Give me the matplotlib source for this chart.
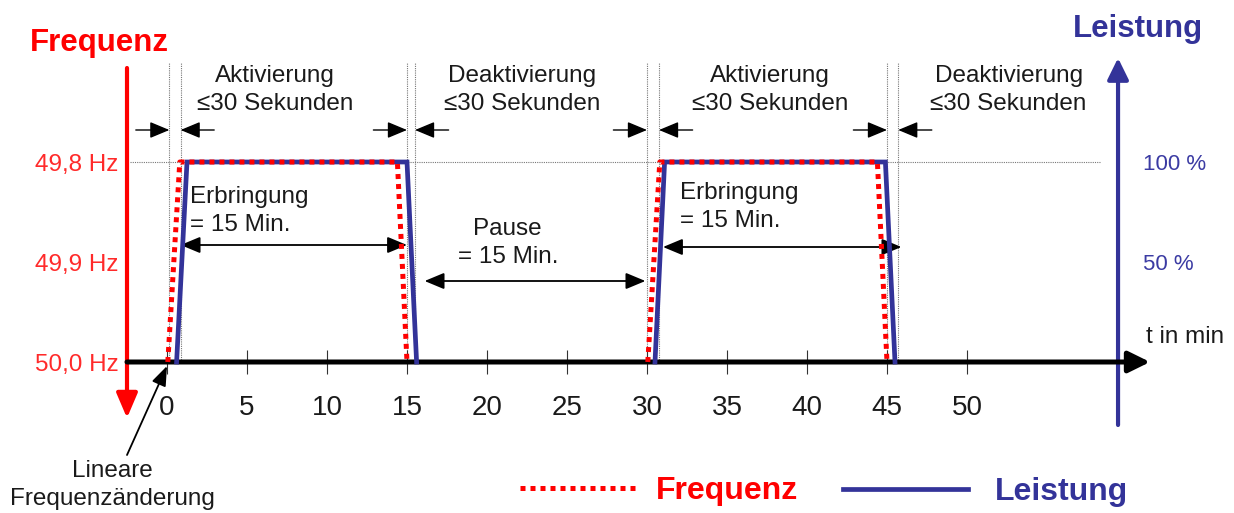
import matplotlib
matplotlib.use('Agg')
import matplotlib.pyplot as plt

plt.rcParams['font.family'] = ['Liberation Sans', 'DejaVu Sans']

# ---------------- data ----------------
freq_pulse_times = [[0.05, 0.8, 14.4, 15.0], [30.05, 30.8, 44.4, 45.0]]
freq_pulse_hz = [50.0, 49.8, 49.8, 50.0]
power_pulse_times = [[0.6, 1.25, 15.0, 15.6], [30.5, 31.1, 44.9, 45.5]]
power_pulse_pct = [0, 100, 100, 0]

x_ticks = [0, 5, 10, 15, 20, 25, 30, 35, 40, 45, 50]
freq_ticks = [50.0, 49.9, 49.8]
freq_tick_labels = ['50,0 Hz', '49,9 Hz', '49,8 Hz']
power_ticks = [50, 100]
power_tick_labels = ['50 %', '100 %']

window_edges = [(0.15, 0.85), (15.0, 15.5), (30.0, 30.75), (45.0, 45.7)]
window_labels = ['Aktivierung\n≤30 Sekunden', 'Deaktivierung\n≤30 Sekunden',
                 'Aktivierung\n≤30 Sekunden', 'Deaktivierung\n≤30 Sekunden']
window_label_x = [6.75, 22.2, 37.7, 52.6]

delivery_spans = [(0.85, 15.0), (31.0, 45.9)]
pause_span = (16.1, 29.9)

# ---------------- style ----------------
RED = '#ff0000'
RED_TXT = '#ff2a2a'
BLUE = '#333399'
BLUE_TXT = '#3b3ba3'
DARK = '#1a1a1a'
FS = 17.5
LS = 1.38

fig = plt.figure(figsize=(12.34, 5.13), dpi=100)
ax = fig.add_axes([0, 0, 1, 1])
ax.set_xlim(-10.4375, 66.6875)
ax.set_ylim(-75.5, 181)
ax_f = ax.twinx()
ax_f.set_ylim(50.0 + 75.5 * 0.002, 50.0 - 181 * 0.002)

for a in (ax, ax_f):
    for s in a.spines.values():
        s.set_visible(False)
    a.patch.set_visible(False)

X_RED_AXIS = -2.5
X_BLUE_AXIS = 59.44

# x ticks on baseline
ax.spines['bottom'].set_position(('data', 0))
ax.set_xticks(x_ticks)
ax.set_xticklabels([str(v) for v in x_ticks])
ax.tick_params(axis='x', direction='inout', length=17, width=0.8, color='#333333',
               pad=15, labelsize=20, labelcolor=DARK)

# power ticks (right, blue axis)
ax.yaxis.tick_right()
ax.spines['right'].set_position(('data', X_BLUE_AXIS))
ax.set_yticks(power_ticks)
ax.set_yticklabels(power_tick_labels)
ax.tick_params(axis='y', length=0, pad=18, labelsize=16, labelcolor=BLUE_TXT)

# frequency ticks (left, red axis)
ax_f.yaxis.tick_left()
ax_f.spines['left'].set_position(('data', X_RED_AXIS))
ax_f.set_yticks(freq_ticks)
ax_f.set_yticklabels(freq_tick_labels)
ax_f.tick_params(axis='y', length=0, pad=6, labelsize=17.5, labelcolor=RED_TXT)

# guide lines
ax.plot([-2.3, 58.4], [100, 100], color='#777777', lw=0.8, ls=(0, (1, 1)), zorder=1)
for a_, b_ in window_edges:
    for t in (a_, b_):
        ax.plot([t, t], [0, 150], color='#777777', lw=0.8, ls=(0, (1, 1)), zorder=1)

# axes arrows
def arrow(x0, y0, x1, y1, color, lw, ms, hl, hw, style='-|>'):
    ax.annotate('', xy=(x1, y1), xytext=(x0, y0),
                arrowprops=dict(arrowstyle=f'{style},head_length={hl},head_width={hw}',
                                color=color, lw=lw, mutation_scale=ms,
                                shrinkA=0, shrinkB=0), zorder=5)

arrow(X_RED_AXIS, 147, X_RED_AXIS, -28, RED, 3.0, 20, 0.75, 0.32)
arrow(X_BLUE_AXIS, -31.5, X_BLUE_AXIS, 152, BLUE, 3.0, 20, 0.65, 0.32)
arrow(X_RED_AXIS, 0, 61.44, 0, 'black', 3.6, 20, 0.65, 0.32)

# lines
blue_line = None
red_line = None
for t in power_pulse_times:
    blue_line, = ax.plot(t, power_pulse_pct, color=BLUE, lw=3.4, zorder=6,
                         solid_joinstyle='miter')
for t in freq_pulse_times:
    red_line, = ax_f.plot(t, freq_pulse_hz, color=RED, lw=3.6, ls=(0, (1, 1)),
                          dash_capstyle='butt', zorder=7)

# window arrows  ->|<-
for a_, b_ in window_edges:
    arrow(a_ - 2.1, 116, a_, 116, 'black', 1.0, 10, 1.2, 0.5)
    arrow(b_ + 2.1, 116, b_, 116, 'black', 1.0, 10, 1.2, 0.5)

for lbl, x in zip(window_labels, window_label_x):
    ax.text(x, 136, lbl, ha='center', va='center', fontsize=FS, color=DARK,
            linespacing=LS)

# delivery / pause
ax.text(1.44, 75.5, 'Erbringung\n= 15 Min.', ha='left', va='center', fontsize=FS,
        color=DARK, linespacing=LS)
ax.text(32.06, 77.5, 'Erbringung\n= 15 Min.', ha='left', va='center', fontsize=FS,
        color=DARK, linespacing=LS)
arrow(delivery_spans[0][0], 58.5, delivery_spans[0][1], 58.5, 'black', 1.3, 10, 1.2, 0.5, '<|-|>')
arrow(delivery_spans[1][0], 57.5, delivery_spans[1][1], 57.5, 'black', 1.3, 10, 1.2, 0.5, '<|-|>')
ax.text(21.3, 59.5, 'Pause\n= 15 Min.', ha='center', va='center', fontsize=FS,
        color=DARK, linespacing=LS)
arrow(pause_span[0], 40.5, pause_span[1], 40.5, 'black', 1.3, 10, 1.2, 0.5, '<|-|>')

# linear change annotation
ax.text(-3.4, -61.5, 'Lineare\nFrequenzänderung', ha='center', va='center',
        fontsize=FS, color=DARK, linespacing=LS)
arrow(-2.5, -46.5, 0.0, -2.0, 'black', 1.3, 10, 1.2, 0.45)

ax.text(61.19, 12.5, 't in min', ha='left', va='center', fontsize=FS, color=DARK)

# axis titles
ax.text(-8.56, 159.5, 'Frequenz', ha='left', va='center', fontsize=22.5,
        fontweight='bold', color=RED)
ax.text(60.7, 166.5, 'Leistung', ha='center', va='center', fontsize=22.5,
        fontweight='bold', color=BLUE)

# legends (two separate ones to match the spacing)
leg1 = ax.legend([red_line], ['Frequenz'],
                 loc='center left', bbox_to_anchor=(520 / 1234, 22 / 513),
                 bbox_transform=fig.transFigure, frameon=False,
                 handlelength=3.75, handletextpad=0.5,
                 prop=dict(weight='bold', size=23), borderpad=0, borderaxespad=0)
leg1.get_texts()[0].set_color(RED)
ax.add_artist(leg1)
leg2 = ax.legend([blue_line], ['Leistung'],
                 loc='center left', bbox_to_anchor=(843 / 1234, 21 / 513),
                 bbox_transform=fig.transFigure, frameon=False,
                 handlelength=3.9, handletextpad=0.85,
                 prop=dict(weight='bold', size=23), borderpad=0, borderaxespad=0)
leg2.get_texts()[0].set_color(BLUE)

fig.savefig('out.png', dpi=100)
